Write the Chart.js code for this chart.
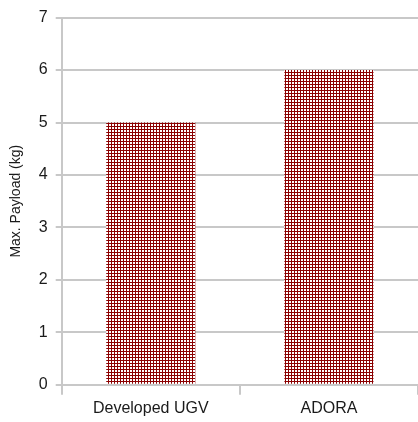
<!DOCTYPE html>
<html>
<head>
<meta charset="utf-8">
<script src="https://cdn.jsdelivr.net/npm/chart.js@4"></script>
<style>
  html, body { margin: 0; padding: 0; background: #fff; }
  #wrap { width: 418px; height: 422px; }
</style>
</head>
<body>
<div id="wrap"><canvas id="chart"></canvas></div>
<script>
// data
const categories = ['Developed UGV', 'ADORA'];
const payloadValues = [5, 6];
const yTitle = 'Max. Payload (kg)';

// crosshatch fill like the original
function makeHatch() {
    var c = document.createElement('canvas');
    c.width = 3; c.height = 3;
    var g = c.getContext('2d');
    g.fillStyle = '#ffffff';
    g.fillRect(0, 0, 3, 3);
    g.fillStyle = '#8b0000';
    g.fillRect(0, 0, 3, 1);
    g.fillRect(0, 0, 1, 3);
    return g.createPattern(c, 'repeat');
}

document.addEventListener('DOMContentLoaded', function() {
    var ctx = document.getElementById('chart').getContext('2d');
    var hatch = makeHatch();
    new Chart(ctx, {
        type: 'bar',
        data: {
            labels: categories,
            datasets: [{
                data: payloadValues,
                backgroundColor: hatch,
                borderWidth: 0,
                barPercentage: 0.5,
                categoryPercentage: 1.0
            }]
        },
        options: {
            responsive: true,
            maintainAspectRatio: false,
            animation: false,
            plugins: {
                legend: { display: false },
                tooltip: { enabled: false }
            },
            layout: {
                padding: { top: 8, right: 0, left: 4, bottom: 0 }
            },
            scales: {
                x: {
                    grid: {
                        display: true,
                        drawOnChartArea: false,
                        drawTicks: true,
                        tickLength: 10,
                        color: '#c8c8c8',
                        lineWidth: 2
                    },
                    border: { display: true, color: '#c8c8c8', width: 2 },
                    ticks: {
                        color: '#1a1a1a',
                        padding: 4,
                        font: { family: 'Liberation Sans', size: 16 }
                    }
                },
                y: {
                    min: 0,
                    max: 7,
                    ticks: {
                        stepSize: 1,
                        color: '#1a1a1a',
                        padding: 8,
                        font: { family: 'Liberation Sans', size: 16 }
                    },
                    grid: {
                        color: '#c8c8c8',
                        lineWidth: 2,
                        tickLength: 6
                    },
                    border: { display: true, color: '#c8c8c8', width: 2 },
                    title: {
                        display: true,
                        text: yTitle,
                        color: '#1a1a1a',
                        padding: { top: 4, bottom: 6 },
                        font: { family: 'Liberation Sans', size: 14 }
                    }
                }
            }
        }
    });
});
</script>
</body>
</html>
